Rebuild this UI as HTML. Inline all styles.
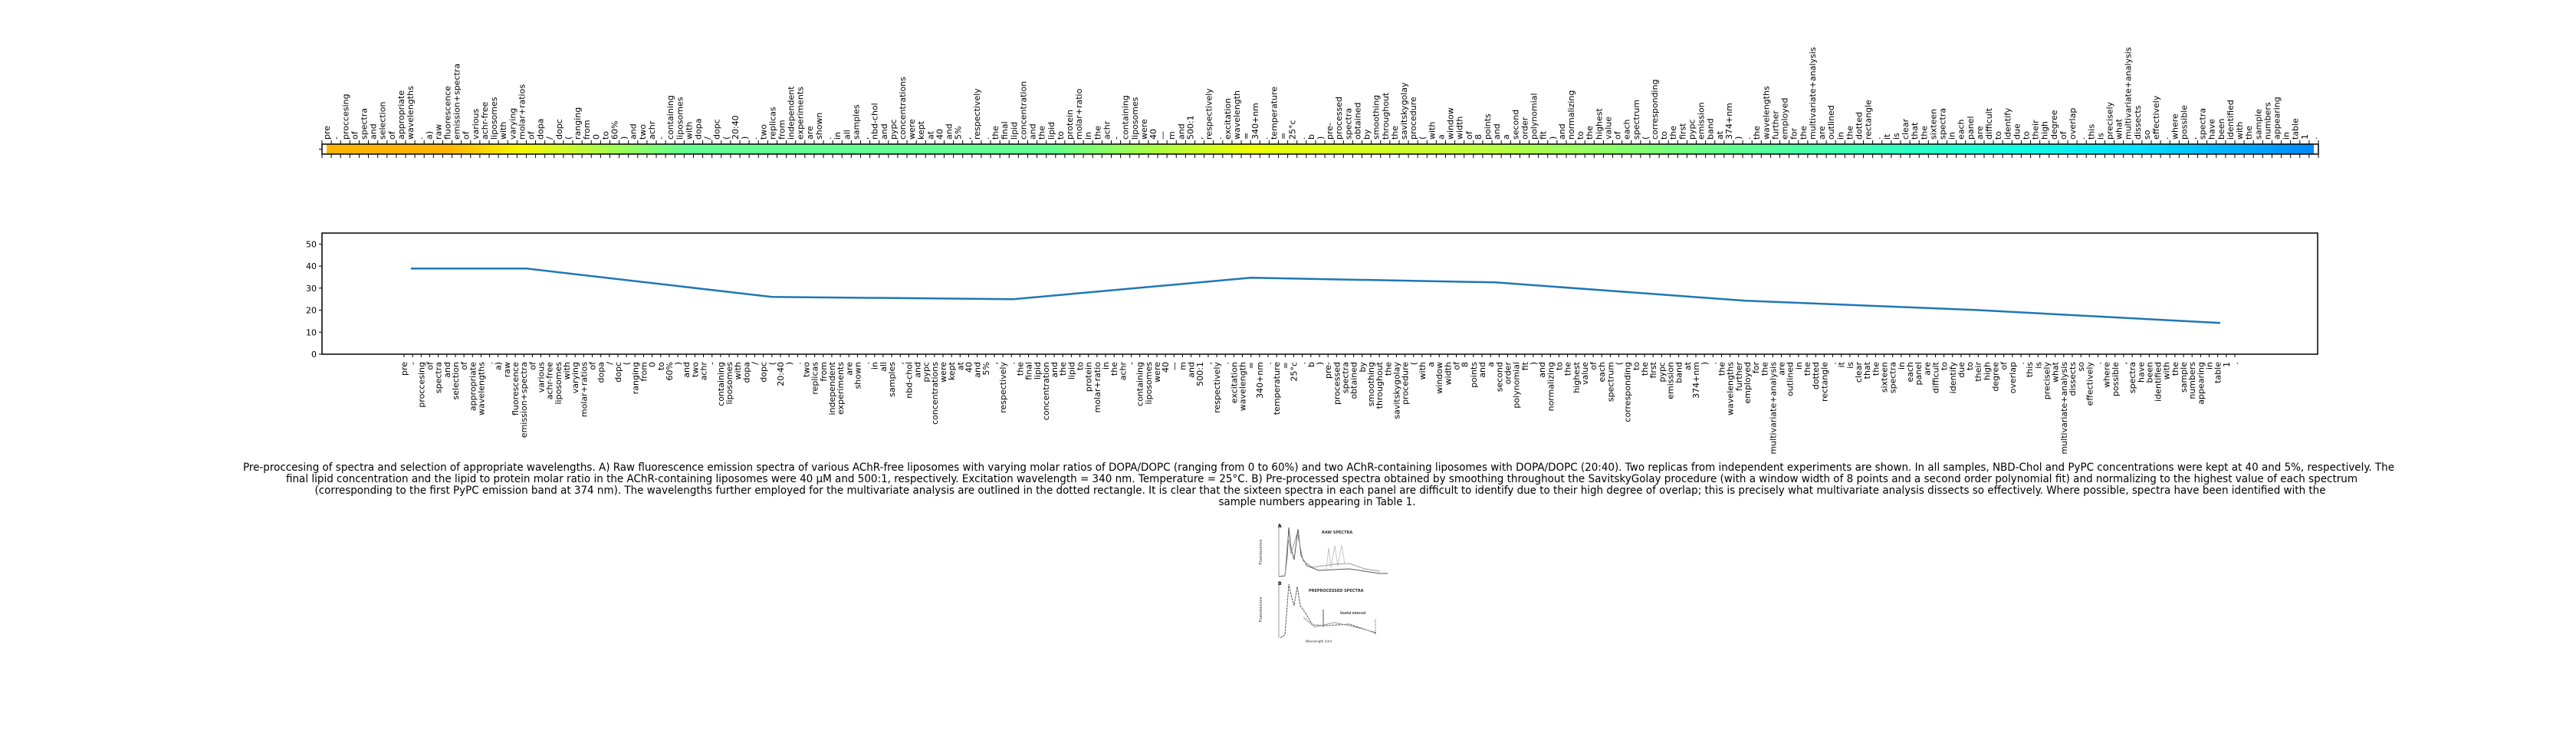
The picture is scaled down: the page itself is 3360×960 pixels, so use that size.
<!DOCTYPE html>
<html><head><meta charset="utf-8"><style>
html,body{margin:0;padding:0;background:#fff;}
svg{display:block;font-family:"DejaVu Sans","Liberation Sans",sans-serif;}
</style></head><body>
<svg id="fig" xmlns="http://www.w3.org/2000/svg" width="3360" height="960" viewBox="0 0 3360 960">
<defs>
<linearGradient id="cbgrad" x1="0" x2="1" y1="0" y2="0"></linearGradient>
</defs>
<g id="cb"></g>
<g id="chart"></g>
<g id="caption" font-size="14" fill="#000" text-anchor="middle">
<text x="1720" y="614" textLength="2806" lengthAdjust="spacingAndGlyphs">Pre-proccesing of spectra and selection of appropriate wavelengths. A) Raw fluorescence emission spectra of various AChR-free liposomes with varying molar ratios of DOPA/DOPC (ranging from 0 to 60%) and two AChR-containing liposomes with DOPA/DOPC (20:40). Two replicas from independent experiments are shown. In all samples, NBD-Chol and PyPC concentrations were kept at 40 and 5%, respectively. The</text>
<text x="1724" y="629" textLength="2702" lengthAdjust="spacingAndGlyphs">final lipid concentration and the lipid to protein molar ratio in the AChR-containing liposomes were 40 μM and 500:1, respectively. Excitation wavelength = 340 nm. Temperature = 25°C. B) Pre-processed spectra obtained by smoothing throughout the SavitskyGolay procedure (with a window width of 8 points and a second order polynomial fit) and normalizing to the highest value of each spectrum</text>
<text x="1722" y="644" textLength="2623" lengthAdjust="spacingAndGlyphs">(corresponding to the first PyPC emission band at 374 nm). The wavelengths further employed for the multivariate analysis are outlined in the dotted rectangle. It is clear that the sixteen spectra in each panel are difficult to identify due to their high degree of overlap; this is precisely what multivariate analysis dissects so effectively. Where possible, spectra have been identified with the</text>
<text x="1718" y="659" textLength="257" lengthAdjust="spacingAndGlyphs">sample numbers appearing in Table 1.</text>
</g>
<g id="thumb" fill="none" stroke="#555" stroke-width="1">
<line x1="1668" y1="683" x2="1668" y2="752" stroke="#999"/>
<text x="1667" y="688" font-size="6" fill="#000" stroke="none" font-weight="bold">A</text>
<text x="1724" y="696" font-size="5" fill="#333" stroke="none" font-weight="bold">RAW SPECTRA</text>
<text x="1646" y="720" font-size="5" fill="#333" stroke="none" transform="rotate(-90 1646 720)" text-anchor="middle">Fluorescence</text>
<polyline points="1668,752 1676,751 1679,725 1681,688 1684,715 1688,730 1693,690 1697,725 1705,738 1720,744 1760,742 1800,748 1810,748"/>
<polyline stroke="#999" points="1676,751 1680,700 1684,722 1692,695 1700,732 1712,740 1740,736 1760,735 1780,742 1800,745"/>
<polyline stroke="#aaa" stroke-dasharray="2 1" points="1730,742 1733,715 1736,740 1741,712 1745,738 1750,711 1754,736"/>
<line x1="1668" y1="762" x2="1668" y2="832" stroke="#999"/>
<text x="1667" y="763" font-size="6" fill="#000" stroke="none" font-weight="bold">B</text>
<text x="1707" y="772" font-size="5" fill="#333" stroke="none" font-weight="bold">PREPROCESSED SPECTRA</text>
<text x="1748" y="801" font-size="4" fill="#333" stroke="none" font-weight="bold">Useful interval</text>
<text x="1646" y="795" font-size="5" fill="#333" stroke="none" transform="rotate(-90 1646 795)" text-anchor="middle">Fluorescence</text>
<polyline stroke-dasharray="3 1" points="1670,832 1676,828 1679,790 1681,762 1685,780 1688,790 1692,765 1696,790 1703,800 1712,815 1730,816 1760,814 1795,826"/>
<polyline stroke="#999" points="1700,805 1715,818 1740,812 1760,816 1795,825"/>
<line x1="1726" y1="795" x2="1726" y2="818"/>
<line x1="1794" y1="808" x2="1794" y2="828" stroke-dasharray="1 1"/>
<text x="1720" y="838" font-size="4" fill="#333" stroke="none" text-anchor="middle">Wavelength (nm)</text>
</g>
</svg>
<script>
const NS = "http://www.w3.org/2000/svg";
const tokens = ["pre","-","proccesing","of","spectra","and","selection","of","appropriate","wavelengths",".","a)","raw","fluorescence","emission+spectra","of","various","achr-free","liposomes","with","varying","molar+ratios","of","dopa","/","dopc","(","ranging","from","0","to","60%",")","and","two","achr","-","containing","liposomes","with","dopa","/","dopc","(","20:40",")",".","two","replicas","from","independent","experiments","are","shown",".","in","all","samples",",","nbd-chol","and","pypc","concentrations","were","kept","at","40","and","5%",",","respectively",".","the","final","lipid","concentration","and","the","lipid","to","protein","molar+ratio","in","the","achr","-","containing","liposomes","were","40","\u2014","m","and","500:1",",","respectively",".","excitation","wavelength","=","340+nm",".","temperature","=","25\u00b0c",".","b",")","pre-","processed","spectra","obtained","by","smoothing","throughout","the","savitskygolay","procedure","(","with","a","window","width","of","8","points","and","a","second","order","polynomial","fit",")","and","normalizing","to","the","highest","value","of","each","spectrum","(","corresponding","to","the","first","pypc","emission","band","at","374+nm",")",".","the","wavelengths","further","employed","for","the","multivariate+analysis","are","outlined","in","the","dotted","rectangle",".","it","is","clear","that","the","sixteen","spectra","in","each","panel","are","difficult","to","identify","due","to","their","high","degree","of","overlap",".","this","is","precisely","what","multivariate+analysis","dissects","so","effectively",".","where","possible",",","spectra","have","been","identified","with","the","sample","numbers","appearing","in","table","1","."];
const lineX = [0.8, 14.3, 43, 71.2, 99, 127.5, 156.8, 183.6, 212.3];
const lineY = [38.9, 38.9, 26, 25, 34.7, 32.6, 24.3, 20.1, 14.2];
const yTicks = [0, 10, 20, 30, 40, 50];
const cbStopIdx = [0, 13, 21, 39, 78, 100, 124, 152, 182, 196, 215];
const cbColor = ["#ffb400","#ffb400","#f8f800","#60ff90","#60ff90","#eeff00","#c0ff3a","#60ff90","#10ffe0","#00e0ff","#0088ff"];

function el(tag, attrs, parent){const e=document.createElementNS(NS,tag);for(const k in attrs)e.setAttribute(k,attrs[k]);parent.appendChild(e);return e;}

// ---- colorbar ----
const cb = document.getElementById('cb');
const cbL=420, cbR=3024, cbT=188, cbB=201;
const nT = tokens.length;
const cellW=(cbR-cbL)/nT;
const grad=document.getElementById('cbgrad');
cbStopIdx.forEach((s,i)=>{el('stop',{offset:(s/nT*100).toFixed(2)+'%','stop-color':cbColor[i]},grad);});
const cbRect = el('rect',{x:cbL+6,y:cbT,width:cbR-cbL-12,height:cbB-cbT,fill:'url(#cbgrad)'},cb);


const cbBox = el('rect',{x:cbL,y:cbT,width:cbR-cbL,height:cbB-cbT,fill:'none',stroke:'#000','stroke-width':1.5},cb);


el('line',{x1:cbL-4,y1:194.5,x2:cbL,y2:194.5,stroke:'#000','stroke-width':1},cb);
for(let i=0;i<=nT;i++){
  const x=cbL+i*cellW;
  el('line',{x1:x,y1:cbT-5,x2:x,y2:cbT,stroke:'#000','stroke-width':1},cb);
  el('line',{x1:x,y1:cbB,x2:x,y2:cbB+5,stroke:'#000','stroke-width':1},cb);
}
tokens.forEach((t,i)=>{
  const x=cbL+(i+0.5)*cellW+4, y=182;
  const tx=el('text',{x:x,y:y,'font-size':11,transform:`rotate(-90 ${x} ${y})`,fill:'#000'},cb);
  
  
  tx.textContent=t;
});

// ---- line chart ----
const ch=document.getElementById('chart');
const L=420,R=3023,T=304,B=462;
const yMax=55;
const xStart=527, xStep=(2915-527)/(nT-1);
const sx=i=>xStart+i*xStep;
const sy=v=>B-(v/yMax)*(B-T);
const frame=el('rect',{x:L,y:T,width:R-L,height:B-T,fill:'none',stroke:'#000','stroke-width':1.5},ch);


yTicks.forEach(v=>{
  const y=sy(v);
  el('line',{x1:L-4,y1:y,x2:L,y2:y,stroke:'#000','stroke-width':1},ch);
  const tx=el('text',{x:L-7,y:y+4,'font-size':11,'text-anchor':'end',fill:'#000'},ch);
  
  
  tx.textContent=v;
});
tokens.forEach((t,i)=>{
  const x=sx(i);
  el('line',{x1:x,y1:B,x2:x,y2:B+4,stroke:'#000','stroke-width':1},ch);
  const xx=x+4, yy=472;
  const tx=el('text',{x:xx,y:yy,'font-size':11,'text-anchor':'end',transform:`rotate(-90 ${xx} ${yy})`,fill:'#000'},ch);
  
  
  tx.textContent=t;
});
const pts=lineX.map((xi,k)=>sx(xi).toFixed(1)+','+sy(lineY[k]).toFixed(1)).join(' ');
const pl=el('polyline',{points:pts,fill:'none',stroke:'#1f77b4','stroke-width':2.5},ch);


</script>
</body></html>
